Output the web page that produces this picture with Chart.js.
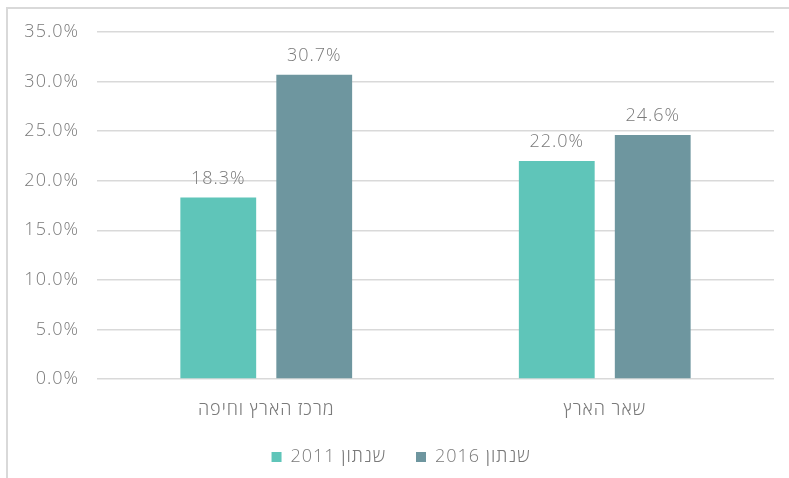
<!DOCTYPE html>
<html>
<head>
<meta charset="utf-8">
<script src="https://cdn.jsdelivr.net/npm/chart.js@4.4.0/dist/chart.umd.min.js"></script>
<style>
  html, body { margin: 0; padding: 0; background: #ffffff; }
  #wrap { position: relative; width: 789px; height: 478px; overflow: hidden; }
  #frame { position: absolute; left: 6px; top: 7px; width: 900px; height: 600px;
           border-left: 2px solid #d9d9d9; border-top: 2px solid #d9d9d9; box-sizing: border-box; }
  canvas { position: absolute; left: 0; top: 0; }
</style>
</head>
<body>
<div id="wrap">
  <div id="frame"></div>
  <canvas id="c" width="789" height="478"></canvas>
</div>
<script>
const categories = ['מרכז הארץ וחיפה', 'שאר הארץ'];
const seriesNames = ['שנתון 2011', 'שנתון 2016'];
const values2011 = [18.3, 22.0];
const values2016 = [30.7, 24.6];
const yTicks = [0, 5, 10, 15, 20, 25, 30, 35];

const FONT = '"Open Sans", "DejaVu Sans", sans-serif';
const TEXT = '#7a7a7a';

const spacing = {
  id: 'spacing',
  beforeInit(chart) { chart.ctx.letterSpacing = '1px'; },
  beforeLayout(chart) { chart.ctx.letterSpacing = '1px'; },
  beforeDraw(chart) { chart.ctx.letterSpacing = '1px'; }
};

// shift the legend block slightly to the right, as in the original figure
const legendShift = {
  id: 'legendShift',
  afterLayout(chart) {
    if (chart.legend) { chart.legend.left += 14; chart.legend.right += 14; }
  }
};

const valueLabels = {
  id: 'valueLabels',
  afterDatasetsDraw(chart) {
    const ctx = chart.ctx;
    ctx.save();
    ctx.letterSpacing = '1px';
    ctx.font = '300 18px ' + FONT;
    ctx.fillStyle = TEXT;
    ctx.textAlign = 'center';
    ctx.textBaseline = 'alphabetic';
    chart.data.datasets.forEach((ds, i) => {
      chart.getDatasetMeta(i).data.forEach((bar, j) => {
        ctx.fillText(ds.data[j].toFixed(1) + '%', bar.x, bar.y - 14);
      });
    });
    ctx.restore();
  }
};

new Chart(document.getElementById('c'), {
  type: 'bar',
  data: {
    labels: categories,
    datasets: [
      { label: seriesNames[0], data: values2011, backgroundColor: '#5fc5b9' },
      { label: seriesNames[1], data: values2016, backgroundColor: '#6e969f' }
    ]
  },
  options: {
    responsive: false,
    animation: false,
    devicePixelRatio: 1,
    categoryPercentage: 0.567,
    barPercentage: 0.79,
    layout: { padding: { top: 32, right: 15, left: 0, bottom: 2 } },
    scales: {
      x: {
        grid: { display: false, drawTicks: false },
        border: { display: false },
        ticks: { color: TEXT, font: { family: FONT, size: 18, weight: 300 }, padding: 20 },
        afterFit(s) { s.height = 39; }
      },
      y: {
        min: 0, max: 35,
        afterBuildTicks(s) { s.ticks = yTicks.map(v => ({ value: v })); },
        grid: { color: '#d9d9d9', lineWidth: 1.5, drawTicks: false },
        border: { display: false },
        ticks: { color: TEXT, font: { family: FONT, size: 18, weight: 300 }, padding: 18,
                 callback: v => v.toFixed(1) + '%' },
        afterFit(s) { s.width = 97; }
      }
    },
    plugins: {
      legend: {
        position: 'bottom',
        textDirection: 'rtl',
        labels: { color: TEXT, font: { family: FONT, size: 18, weight: 300 },
                  boxWidth: 10, boxHeight: 10, padding: 30 }
      },
      tooltip: { enabled: false }
    }
  },
  plugins: [spacing, legendShift, valueLabels]
});
</script>
</body>
</html>
